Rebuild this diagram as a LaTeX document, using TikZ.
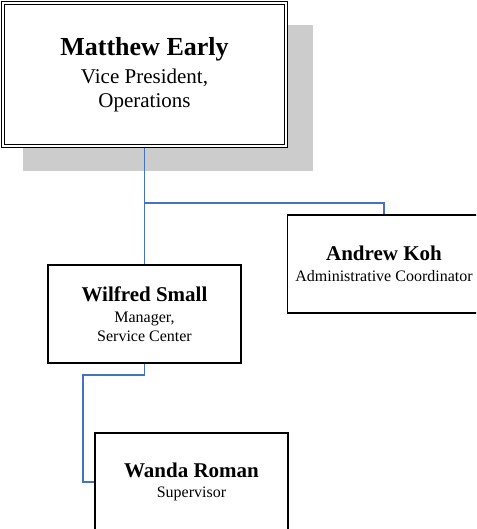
\documentclass[tikz,border=0pt]{standalone}
\usepackage{fontspec}
\setmainfont{Liberation Serif}
\usetikzlibrary{shadows}
\definecolor{linkblue}{RGB}{68,114,196}

\begin{document}
\begin{tikzpicture}[x=1pt,y=-1pt]
\tikzstyle{every node}=[rectangle,draw,line width=1.2pt,fill=white,align=center,inner sep=0pt,minimum width=193pt,minimum height=98pt,font=\fontsize{16}{19}\selectfont]
\tikzstyle{head}=[double,line width=0.9pt,double distance=2.2pt,minimum width=283pt,minimum height=143pt,outer sep=2pt,font=\fontsize{21}{24}\selectfont,drop shadow={shadow xshift=23pt,shadow yshift=-23pt,shadow scale=1.025,fill=black!20,opacity=1}]
\tikzstyle{link}=[draw=linkblue,line width=1.2pt]
\clip (0,0) rectangle (476,529);
\node[head] (matthew) at (144.5,74.5) {{\fontsize{26}{28}\selectfont\bfseries Matthew Early}\\[4pt] Vice President,\\ Operations};
\node (andrew) at (384,264) {{\fontsize{21}{24}\selectfont\bfseries Andrew Koh}\\[2pt] Administrative Coordinator};
\node (wilfred) at (144.5,314) {{\fontsize{21}{24}\selectfont\bfseries Wilfred Small}\\[2pt] Manager,\\ Service Center};
\node (wanda) at (191.5,482) {{\fontsize{21}{24}\selectfont\bfseries Wanda Roman}\\[1pt] Supervisor};
\coordinate (bus) at (matthew.south |- 0,203);
\coordinate (elbow) at (83,375);
\draw[link] (matthew.south) -- (bus) -| (andrew.north);
\draw[link] (bus) -- (wilfred.north);
\draw[link] (wilfred.south) |- (elbow) |- (wanda.west);
\end{tikzpicture}
\end{document}
